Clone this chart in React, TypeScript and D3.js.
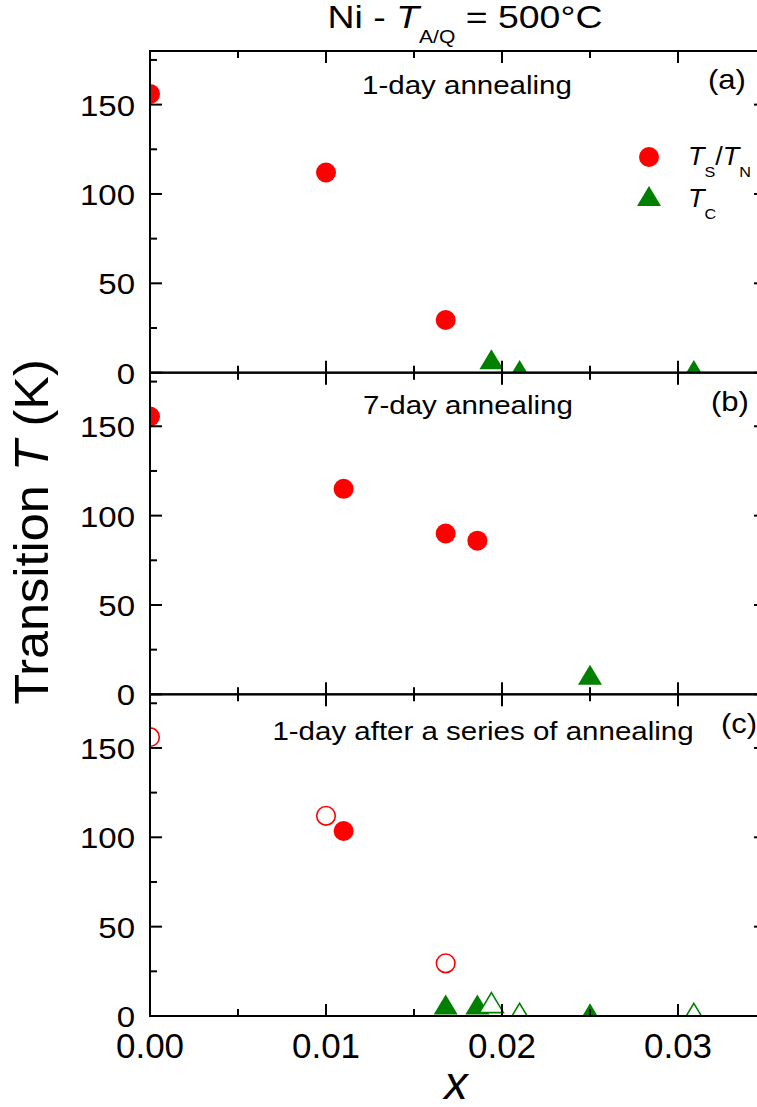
import React from "react";
import * as d3 from "d3";

// ---- data ----
const xMajorTicks = [0, 0.01, 0.02, 0.03];
const xMajorLabels = ["0.00", "0.01", "0.02", "0.03"];
const xMinorTicks = [0.005, 0.015, 0.025];
const yMajorTicks = [0, 50, 100, 150];
const yMinorTicks = [25, 75, 125, 175];

// panel (a) 1-day annealing
const aTsX = [0, 0.01, 0.0168];
const aTsY = [156, 112, 29.5];
const aTcX = [0.0194, 0.021, 0.0309];
const aTcY = [7.5, 1.5, 1.5];

// panel (b) 7-day annealing
const bTsX = [0, 0.011, 0.0168, 0.0186];
const bTsY = [155.5, 115, 90, 86];
const bTcX = [0.025];
const bTcY = [11];

// panel (c) 1-day after a series of annealing
const cTsOpenX = [0, 0.01, 0.0168];
const cTsOpenY = [156, 112, 29.5];
const cTsX = [0.011];
const cTsY = [103.5];
const cTcX = [0.0168, 0.0186, 0.025];
const cTcY = [6.5, 6.5, 1.5];
const cTcOpenX = [0.0194, 0.021, 0.0309];
const cTcOpenY = [7.5, 1.5, 1.5];

const panelLabels = ["1-day annealing", "7-day annealing", "1-day after a series of annealing"];
const panelTags = ["(a)", "(b)", "(c)"];

const RED = "#ff0000";
const GREEN = "#008000";
const FONT = "'Liberation Sans', Arial, Helvetica, sans-serif";

const W = 757;
const H = 1107;
const LEFT = 150;
const RIGHT = 766;
const TOP = 51;
const BOTTOM = 1016;
const PH = (BOTTOM - TOP) / 3;

const x = d3.scaleLinear().domain([0, 0.035]).range([LEFT, RIGHT]);

function tri(cx: number, cy: number) {
  const p = d3.path();
  p.moveTo(cx, cy - 10);
  p.lineTo(cx + 12, cy + 10);
  p.lineTo(cx - 12, cy + 10);
  p.closePath();
  return p.toString();
}

function SText(props: any) {
  const { x: tx, y: ty, sx = 1, anchor = "start", size, children, rotate, style } = props;
  const tr = `translate(${tx},${ty})${rotate ? ` rotate(${rotate})` : ""} scale(${sx},1)`;
  return (
    <g transform={tr}>
      <text textAnchor={anchor} fontSize={size} fontFamily={FONT} fill="#000" style={style}>
        {children}
      </text>
    </g>
  );
}

function Panel({ idx, children }: any) {
  const top = TOP + idx * PH;
  const bottom = top + PH;
  const y = d3.scaleLinear().domain([0, 180]).range([bottom, top]);
  const maj = 12;
  const min = 7;
  const sw = 2;
  return (
    <g>
      <defs>
        <clipPath id={`clip${idx}`}>
          <rect x={LEFT} y={top} width={RIGHT - LEFT} height={PH} />
        </clipPath>
      </defs>
      <g clipPath={`url(#clip${idx})`}>{children(y)}</g>
      <rect x={LEFT} y={top} width={RIGHT - LEFT} height={PH} fill="none" stroke="#000" strokeWidth={sw} />
      {xMajorTicks.map((t) => (
        <g key={"xm" + t}>
          <line x1={x(t)} x2={x(t)} y1={bottom} y2={bottom - maj} stroke="#000" strokeWidth={sw} />
          <line x1={x(t)} x2={x(t)} y1={top} y2={top + maj} stroke="#000" strokeWidth={sw} />
        </g>
      ))}
      {xMinorTicks.map((t) => (
        <g key={"xn" + t}>
          <line x1={x(t)} x2={x(t)} y1={bottom} y2={bottom - min} stroke="#000" strokeWidth={sw} />
          <line x1={x(t)} x2={x(t)} y1={top} y2={top + min} stroke="#000" strokeWidth={sw} />
        </g>
      ))}
      {yMajorTicks.map((t) => (
        <g key={"ym" + t}>
          <line x1={LEFT} x2={LEFT + maj} y1={y(t)} y2={y(t)} stroke="#000" strokeWidth={sw} />
          <line x1={RIGHT} x2={RIGHT - maj} y1={y(t)} y2={y(t)} stroke="#000" strokeWidth={sw} />
          <SText x={135} y={y(t) + 11} sx={1.1} anchor="end" size={30}>
            {String(t)}
          </SText>
        </g>
      ))}
      {yMinorTicks.map((t) => (
        <g key={"yn" + t}>
          <line x1={LEFT} x2={LEFT + min} y1={y(t)} y2={y(t)} stroke="#000" strokeWidth={sw} />
          <line x1={RIGHT} x2={RIGHT - min} y1={y(t)} y2={y(t)} stroke="#000" strokeWidth={sw} />
        </g>
      ))}
    </g>
  );
}

function Circles({ xs, ys, y, open }: any) {
  return (
    <g>
      {xs.map((v: number, i: number) => (
        <circle
          key={i}
          cx={x(v)}
          cy={y(ys[i])}
          r={open ? 9.3 : 10}
          fill={open ? "#fff" : RED}
          stroke={open ? RED : "none"}
          strokeWidth={open ? 1.6 : 0}
        />
      ))}
    </g>
  );
}

function Tris({ xs, ys, y, open }: any) {
  return (
    <g>
      {xs.map((v: number, i: number) => (
        <path
          key={i}
          d={tri(x(v), y(ys[i]))}
          fill={open ? "#fff" : GREEN}
          stroke={open ? GREEN : "none"}
          strokeWidth={open ? 1.6 : 0}
        />
      ))}
    </g>
  );
}

export default function App() {
  return (
    <svg
      width={W}
      height={H}
      viewBox={`0 0 ${W} ${H}`}
      style={{ position: "absolute", left: 0, top: 0, background: "#fff" }}
    >
      <rect x={0} y={0} width={W} height={H} fill="#fff" />
      <SText x={465} y={28} sx={1.17} anchor="middle" size={32}>
        <tspan>Ni - </tspan>
        <tspan fontStyle="italic">T</tspan>
        <tspan fontSize={18} dy={15}>A/Q</tspan>
        <tspan dy={-15}> = 500°C</tspan>
      </SText>

      <Panel idx={0}>
        {(y: any) => (
          <g>
            <Circles xs={aTsX} ys={aTsY} y={y} />
            <Tris xs={aTcX} ys={aTcY} y={y} />
          </g>
        )}
      </Panel>
      <Panel idx={1}>
        {(y: any) => (
          <g>
            <Circles xs={bTsX} ys={bTsY} y={y} />
            <Tris xs={bTcX} ys={bTcY} y={y} />
          </g>
        )}
      </Panel>
      <Panel idx={2}>
        {(y: any) => (
          <g>
            <Circles xs={cTsOpenX} ys={cTsOpenY} y={y} open />
            <Circles xs={cTsX} ys={cTsY} y={y} />
            <Tris xs={cTcX} ys={cTcY} y={y} />
            <Tris xs={cTcOpenX} ys={cTcOpenY} y={y} open />
          </g>
        )}
      </Panel>

      <SText x={467} y={94} sx={1.18} anchor="middle" size={25}>{panelLabels[0]}</SText>
      <SText x={468} y={414} sx={1.18} anchor="middle" size={25}>{panelLabels[1]}</SText>
      <SText x={483} y={740} sx={1.18} anchor="middle" size={25}>{panelLabels[2]}</SText>
      <SText x={708} y={89} sx={1.15} size={27}>{panelTags[0]}</SText>
      <SText x={711} y={411} sx={1.15} size={27}>{panelTags[1]}</SText>
      <SText x={721} y={733} sx={1.15} size={27}>{panelTags[2]}</SText>

      <circle cx={649} cy={157} r={10} fill={RED} />
      <path d={tri(649, 196)} fill={GREEN} />
      <SText x={688} y={165} sx={1.08} size={25}>
        <tspan fontStyle="italic">T</tspan>
        <tspan fontSize={15} dy={12}>S</tspan>
        <tspan dy={-12}>/</tspan>
        <tspan fontStyle="italic">T</tspan>
        <tspan fontSize={15} dy={12}>N</tspan>
      </SText>
      <SText x={688} y={207} sx={1.08} size={25}>
        <tspan fontStyle="italic">T</tspan>
        <tspan fontSize={15} dy={12}>C</tspan>
      </SText>

      {xMajorTicks.map((t, i) => (
        <SText key={t} x={x(t)} y={1058} anchor="middle" size={35}>
          {xMajorLabels[i]}
        </SText>
      ))}

      <SText x={456} y={1099} anchor="middle" size={47} style={{ fontStyle: "italic" }}>
        x
      </SText>
      <SText x={48} y={532} rotate={-90} sx={1.05} anchor="middle" size={48}>
        <tspan>Transition </tspan>
        <tspan fontStyle="italic">T</tspan>
        <tspan> (K)</tspan>
      </SText>
    </svg>
  );
}
